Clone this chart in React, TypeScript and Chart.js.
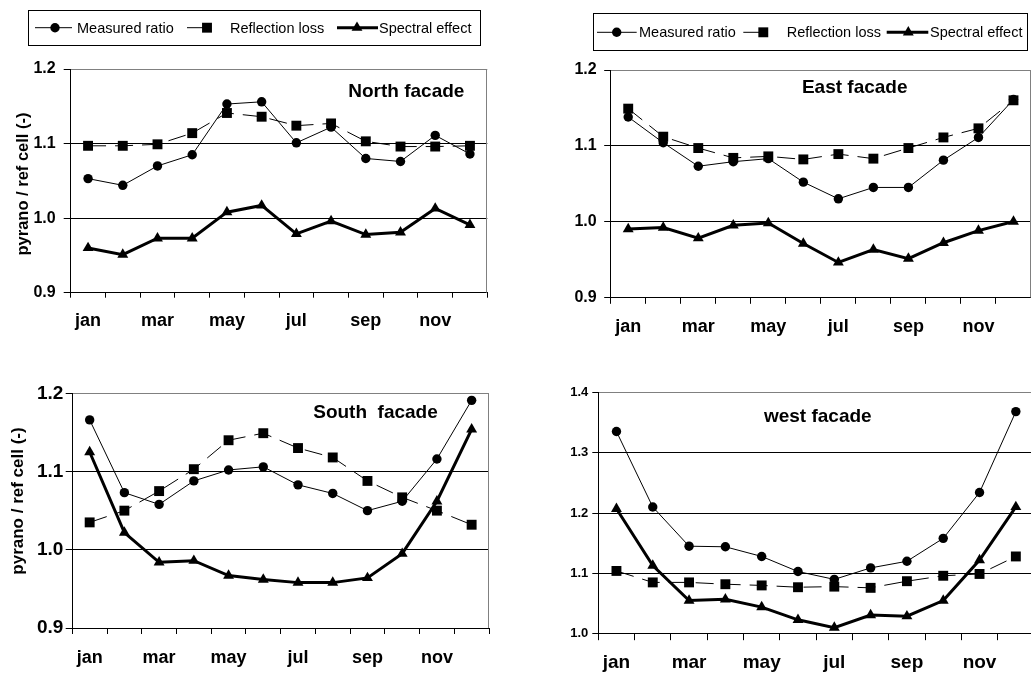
import React, { useEffect, useRef } from 'react';
import { Chart, registerables } from 'chart.js';

Chart.register(...registerables);

const FONT = "'Liberation Sans', Arial, Helvetica, sans-serif";
Chart.defaults.font.family = FONT;
Chart.defaults.color = '#000';

// ---- data -----------------------------------------------------------------
const months = ['jan', 'feb', 'mar', 'apr', 'may', 'jun', 'jul', 'aug', 'sep', 'oct', 'nov', 'dec'];
const seriesNames = ['Measured ratio', 'Reflection loss', 'Spectral effect'];

const northMeasured = [1.053, 1.044, 1.070, 1.085, 1.153, 1.156, 1.101, 1.122, 1.080, 1.076, 1.111, 1.086];
const northReflection = [1.097, 1.097, 1.099, 1.114, 1.141, 1.136, 1.124, 1.127, 1.103, 1.096, 1.096, 1.097];
const northSpectral = [0.960, 0.951, 0.973, 0.973, 1.008, 1.017, 0.979, 0.996, 0.978, 0.981, 1.013, 0.991];

const eastMeasured = [1.138, 1.104, 1.073, 1.079, 1.083, 1.052, 1.030, 1.045, 1.045, 1.081, 1.111, 1.161];
const eastReflection = [1.149, 1.112, 1.097, 1.084, 1.086, 1.082, 1.089, 1.083, 1.097, 1.111, 1.123, 1.160];
const eastSpectral = [0.990, 0.992, 0.978, 0.995, 0.998, 0.971, 0.946, 0.963, 0.951, 0.972, 0.988, 1.000];

const southMeasured = [1.166, 1.073, 1.058, 1.088, 1.102, 1.106, 1.083, 1.072, 1.050, 1.062, 1.116, 1.191];
const southReflection = [1.035, 1.050, 1.075, 1.103, 1.140, 1.149, 1.130, 1.118, 1.088, 1.067, 1.050, 1.032];
const southSpectral = [1.125, 1.022, 0.984, 0.986, 0.967, 0.962, 0.958, 0.958, 0.964, 0.995, 1.062, 1.154];

const westMeasured = [1.335, 1.210, 1.145, 1.144, 1.128, 1.103, 1.090, 1.109, 1.120, 1.158, 1.234, 1.368];
const westReflection = [1.104, 1.085, 1.085, 1.082, 1.080, 1.077, 1.078, 1.076, 1.087, 1.096, 1.099, 1.128];
const westSpectral = [1.207, 1.113, 1.055, 1.057, 1.044, 1.023, 1.010, 1.031, 1.029, 1.055, 1.122, 1.210];

const ratioRange = [0.9, 1.2];
const westRange = [1.0, 1.4];
const yStep = 0.1;

// ---- layout of the four panels (page pixels) ------------------------------
type LegendItem = { x0: number; x1: number; m: number; t: number };
type Panel = {
  key: string;
  title: string;
  measured: number[];
  reflection: number[];
  spectral: number[];
  range: number[];
  box: { left: number; top: number; width: number; height: number };
  area: { left: number; top: number; right: number; bottom: number };
  titleAt: { x: number; y: number };
  yTitle?: { text: string; x: number; y: number; size: number };
  yFont: number;
  yTickLen: number;
  yPad: number;
  xFont: number;
  xTickLen: number;
  xPad: number;
  legend?: { box: number[]; mid: number; base: number; items: LegendItem[] };
};

const panels: Panel[] = [
  {
    key: 'north',
    title: 'North facade',
    measured: northMeasured,
    reflection: northReflection,
    spectral: northSpectral,
    range: ratioRange,
    box: { left: 0, top: 0, width: 505, height: 340 },
    area: { left: 70.7, top: 69, right: 487.3, bottom: 292.7 },
    titleAt: { x: 406.3, y: 96.7 },
    yTitle: { text: 'pyrano / ref cell (-)', x: 23.2, y: 184, size: 16.5 },
    yFont: 16,
    yTickLen: 7,
    yPad: 8,
    xFont: 18,
    xTickLen: 5,
    xPad: 12.2,
    legend: {
      box: [28.3, 10, 480.5, 45.3],
      mid: 27.7,
      base: 33.3,
      items: [
        { x0: 35, x1: 72, m: 55, t: 77 },
        { x0: 187, x1: 207, m: 207, t: 230 },
        { x0: 337, x1: 378, m: 357, t: 379 },
      ],
    },
  },
  {
    key: 'east',
    title: 'East facade',
    measured: eastMeasured,
    reflection: eastReflection,
    spectral: eastSpectral,
    range: ratioRange,
    box: { left: 505, top: 0, width: 533, height: 340 },
    area: { left: 610.7, top: 70, right: 1038, bottom: 297.3 },
    titleAt: { x: 854.7, y: 92.7 },
    yFont: 16,
    yTickLen: 6.5,
    yPad: 7.5,
    xFont: 18,
    xTickLen: 6.5,
    xPad: 12.1,
    legend: {
      box: [592.7, 12.7, 1026.7, 49.3],
      mid: 32.3,
      base: 37.3,
      items: [
        { x0: 597, x1: 636.7, m: 616.7, t: 639 },
        { x0: 743.3, x1: 763.3, m: 763.3, t: 786.7 },
        { x0: 886.7, x1: 928.3, m: 908.3, t: 930 },
      ],
    },
  },
  {
    key: 'south',
    title: 'South  facade',
    measured: southMeasured,
    reflection: southReflection,
    spectral: southSpectral,
    range: ratioRange,
    box: { left: 0, top: 340, width: 505, height: 333 },
    area: { left: 72.3, top: 393.3, right: 489, bottom: 628 },
    titleAt: { x: 375.5, y: 418.3 },
    yTitle: { text: 'pyrano / ref cell (-)', x: 18.5, y: 501, size: 17 },
    yFont: 19,
    yTickLen: 6.6,
    yPad: 2.4,
    xFont: 18,
    xTickLen: 6,
    xPad: 13.6,
  },
  {
    key: 'west',
    title: 'west facade',
    measured: westMeasured,
    reflection: westReflection,
    spectral: westSpectral,
    range: westRange,
    box: { left: 505, top: 340, width: 536, height: 333 },
    area: { left: 598.3, top: 392.3, right: 1040.5, bottom: 633.7 },
    titleAt: { x: 817.8, y: 421.7 },
    yFont: 13,
    yTickLen: 6,
    yPad: 4,
    xFont: 19,
    xTickLen: 6.5,
    xPad: 11.4,
  },
];

// ---- marker helpers used by the legend ------------------------------------
function markerPath(ctx: CanvasRenderingContext2D, style: string, x: number, y: number, r: number) {
  ctx.beginPath();
  if (style === 'circle') {
    ctx.arc(x, y, r, 0, Math.PI * 2);
  } else if (style === 'rect') {
    const s = Math.SQRT1_2 * r;
    ctx.rect(x - s, y - s, 2 * s, 2 * s);
  } else {
    let a = 0;
    ctx.moveTo(x + Math.sin(a) * r, y - Math.cos(a) * r);
    a += (2 * Math.PI) / 3;
    ctx.lineTo(x + Math.sin(a) * r, y - Math.cos(a) * r);
    a += (2 * Math.PI) / 3;
    ctx.lineTo(x + Math.sin(a) * r, y - Math.cos(a) * r);
    ctx.closePath();
  }
  ctx.fill();
}

const pointStyles = ['circle', 'rect', 'triangle'];
const pointSizes = [4.7, 7, 6.3];
const lineWidths = [1, 1, 3];

// Panel title, y-axis title, plot-area frame and the boxed legend.
const panelDecor = {
  id: 'panelDecor',
  afterDraw(chart: any, _args: any, opts: any) {
    const p: Panel = opts.panel;
    if (!p) return;
    const { ctx, chartArea } = chart;
    const ox = p.box.left;
    const oy = p.box.top;
    ctx.save();

    // right edge of the plot frame
    ctx.strokeStyle = '#808080';
    ctx.lineWidth = 1;
    ctx.setLineDash([]);
    const rx = Math.round(chartArea.right) - 0.5;
    ctx.beginPath();
    ctx.moveTo(rx, chartArea.top);
    ctx.lineTo(rx, chartArea.bottom);
    ctx.stroke();

    // facade title
    ctx.fillStyle = '#000';
    ctx.font = `bold 19px ${FONT}`;
    ctx.textAlign = 'center';
    ctx.textBaseline = 'alphabetic';
    ctx.fillText(p.title, p.titleAt.x - ox, p.titleAt.y - oy);

    // rotated y-axis title
    if (p.yTitle) {
      ctx.save();
      ctx.translate(p.yTitle.x - ox, p.yTitle.y - oy);
      ctx.rotate(-Math.PI / 2);
      ctx.font = `bold ${p.yTitle.size}px ${FONT}`;
      ctx.textAlign = 'center';
      ctx.textBaseline = 'middle';
      ctx.fillText(p.yTitle.text, 0, 0);
      ctx.restore();
    }

    // legend
    if (p.legend) {
      const L = p.legend;
      const [bx0, by0, bx1, by1] = L.box;
      ctx.strokeStyle = '#000';
      ctx.lineWidth = 1;
      ctx.strokeRect(Math.round(bx0 - ox) + 0.5, Math.round(by0 - oy) + 0.5, Math.round(bx1 - bx0), Math.round(by1 - by0));
      ctx.font = `14.5px ${FONT}`;
      ctx.textAlign = 'left';
      ctx.textBaseline = 'alphabetic';
      L.items.forEach((it, i) => {
        const y = L.mid - oy;
        ctx.strokeStyle = '#000';
        ctx.lineWidth = lineWidths[i];
        ctx.beginPath();
        ctx.moveTo(it.x0 - ox, y);
        ctx.lineTo(it.x1 - ox, y);
        ctx.stroke();
        ctx.fillStyle = '#000';
        markerPath(ctx, pointStyles[i], it.m - ox, y, pointSizes[i]);
        ctx.fillText(seriesNames[i], it.t - ox, L.base - oy);
      });
    }
    ctx.restore();
  },
};

function buildConfig(p: Panel): any {
  const [yMin, yMax] = p.range;
  const seriesData = [p.measured, p.reflection, p.spectral];
  return {
    type: 'line',
    data: {
      labels: months,
      datasets: seriesData.map((data, i) => ({
        label: seriesNames[i],
        data,
        borderColor: '#000',
        backgroundColor: '#000',
        borderWidth: lineWidths[i],
        borderDash: i === 1 ? [18, 9] : [],
        pointStyle: pointStyles[i],
        pointRadius: pointSizes[i],
        pointBorderWidth: 0,
        pointBackgroundColor: '#000',
        tension: 0,
        fill: false,
        clip: false,
      })),
    },
    options: {
      responsive: false,
      animation: false,
      events: [],
      layout: {
        padding: {
          left: 0,
          top: p.area.top - p.box.top,
          right: Math.max(0, p.box.left + p.box.width - p.area.right),
          bottom: 0,
        },
      },
      plugins: {
        legend: { display: false },
        tooltip: { enabled: false },
        title: { display: false },
        panelDecor: { panel: p },
      },
      scales: {
        x: {
          type: 'category',
          offset: true,
          grid: {
            offset: true,
            drawOnChartArea: false,
            drawTicks: true,
            tickLength: p.xTickLen,
            color: '#000',
            tickColor: '#000',
            lineWidth: 1,
          },
          border: { display: true, color: '#000', width: 1 },
          ticks: {
            autoSkip: false,
            maxRotation: 0,
            minRotation: 0,
            padding: p.xPad,
            color: '#000',
            font: { size: p.xFont, weight: 'bold', family: FONT },
            callback: (_v: any, i: number) => (i % 2 === 0 ? months[i] : ''),
          },
          afterFit: (s: any) => {
            s.height = p.box.top + p.box.height - p.area.bottom;
          },
        },
        y: {
          min: yMin,
          max: yMax,
          grid: {
            color: (c: any) => (c.tick && Math.abs(c.tick.value - yMax) < 1e-6 ? '#808080' : '#000'),
            tickColor: '#000',
            tickLength: p.yTickLen,
            lineWidth: 1,
          },
          border: { display: true, color: '#000', width: 1 },
          ticks: {
            stepSize: yStep,
            padding: p.yPad,
            color: '#000',
            font: { size: p.yFont, weight: 'bold', family: FONT },
            callback: (v: any) => Number(v).toFixed(1),
          },
          afterFit: (s: any) => {
            s.width = p.area.left - p.box.left;
          },
        },
      },
    },
    plugins: [panelDecor],
  };
}

function FacadeChart({ panel }: { panel: Panel }) {
  const ref = useRef<HTMLCanvasElement>(null);
  useEffect(() => {
    if (!ref.current) return;
    const chart = new Chart(ref.current, buildConfig(panel));
    return () => chart.destroy();
  }, [panel]);
  const { box } = panel;
  return (
    <canvas
      ref={ref}
      width={box.width}
      height={box.height}
      style={{
        position: 'absolute',
        left: box.left,
        top: box.top,
        width: box.width,
        height: box.height,
        display: 'block',
      }}
    />
  );
}

export default function App() {
  return (
    <div
      style={{
        position: 'fixed',
        left: 0,
        top: 0,
        width: 1031,
        height: 673,
        overflow: 'hidden',
        background: '#fff',
      }}
    >
      {panels.map((p) => (
        <FacadeChart key={p.key} panel={p} />
      ))}
    </div>
  );
}
